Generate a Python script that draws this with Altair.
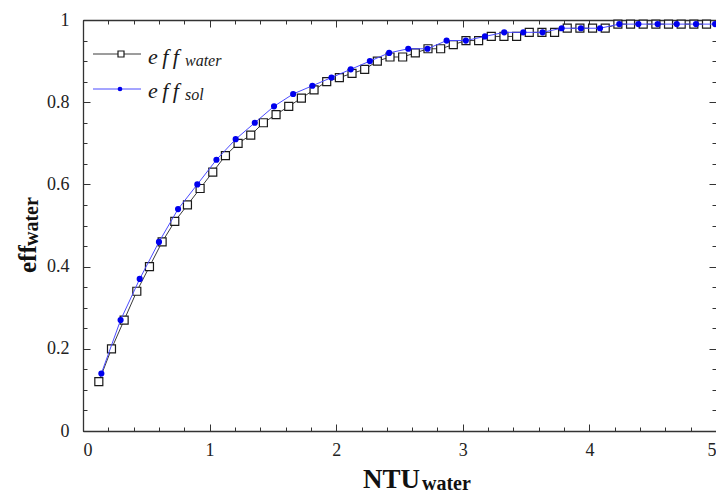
import altair as alt
import pandas as pd

# ---------------- data ----------------
water_ntu = [0.125, 0.225, 0.325, 0.425, 0.525, 0.625, 0.725, 0.825, 0.925, 1.025,
             1.125, 1.225, 1.325, 1.425, 1.525, 1.625, 1.725, 1.825, 1.925, 2.025,
             2.125, 2.225, 2.325, 2.425, 2.525, 2.625, 2.725, 2.825, 2.925, 3.025,
             3.125, 3.225, 3.325, 3.425, 3.525, 3.625, 3.725, 3.825, 3.925, 4.025,
             4.125, 4.225, 4.325, 4.425, 4.525, 4.625, 4.725, 4.825, 4.925]
water_eff = [0.12, 0.20, 0.27, 0.34, 0.40, 0.46, 0.51, 0.55, 0.59, 0.63,
             0.67, 0.70, 0.72, 0.75, 0.77, 0.79, 0.81, 0.83, 0.85, 0.86,
             0.87, 0.88, 0.90, 0.91, 0.91, 0.92, 0.93, 0.93, 0.94, 0.95,
             0.95, 0.96, 0.96, 0.96, 0.97, 0.97, 0.97, 0.98, 0.98, 0.98,
             0.98, 0.99, 0.99, 0.99, 0.99, 0.99, 0.99, 0.99, 0.99]

sol_ntu = [0.145, 0.297, 0.448, 0.600, 0.751, 0.903, 1.054, 1.206, 1.357, 1.509,
           1.660, 1.812, 1.963, 2.115, 2.266, 2.418, 2.569, 2.721, 2.872, 3.024,
           3.175, 3.327, 3.478, 3.630, 3.781, 3.933, 4.084, 4.236, 4.387, 4.539,
           4.690, 4.842, 4.993]
sol_eff = [0.14, 0.27, 0.37, 0.46, 0.54, 0.60, 0.66, 0.71, 0.75, 0.79,
           0.82, 0.84, 0.86, 0.88, 0.90, 0.92, 0.93, 0.93, 0.95, 0.95,
           0.96, 0.97, 0.97, 0.97, 0.98, 0.98, 0.98, 0.99, 0.99, 0.99,
           0.99, 0.99, 0.99]

x_major = [0, 1, 2, 3, 4, 5]
x_minor = [0, 0.2, 0.4, 0.6, 0.8, 1, 1.2, 1.4, 1.6, 1.8, 2, 2.2, 2.4, 2.6, 2.8,
           3, 3.2, 3.4, 3.6, 3.8, 4, 4.2, 4.4, 4.6, 4.8, 5]
y_major = [0, 0.2, 0.4, 0.6, 0.8, 1]
y_minor = [0, 0.05, 0.1, 0.15, 0.2, 0.25, 0.3, 0.35, 0.4, 0.45, 0.5, 0.55, 0.6,
           0.65, 0.7, 0.75, 0.8, 0.85, 0.9, 0.95, 1]

x_title = ["NTU"]
x_title_sub = ["water"]
y_title = ["eff"]
y_title_sub = ["water"]
legend_main = ["e\u2009f\u2009f"]
legend_sub = ["water", "sol"]

# ---------------- layout ----------------
W, H = 633, 411
SERIF = "Liberation Serif"
AX = "#333333"

water = pd.DataFrame({"ntu": water_ntu, "eff": water_eff})
sol = pd.DataFrame({"ntu": sol_ntu, "eff": sol_eff})

xs = alt.Scale(domain=[0, 5], nice=False, zero=False)
ys = alt.Scale(domain=[0, 1], nice=False, zero=False)


def X(axis):
    return alt.X("ntu:Q", scale=xs, axis=axis)


def Y(axis):
    return alt.Y("eff:Q", scale=ys, axis=axis)


main_x = alt.Axis(orient="bottom", values=x_major, format="~g", labelFont=SERIF,
                  labelFontSize=18, labelColor="#222222", labelPadding=10,
                  ticks=False, domain=True, domainColor=AX, domainWidth=1.3,
                  grid=False, title=None)
main_y = alt.Axis(orient="left", values=y_major, format="~g", labelFont=SERIF,
                  labelFontSize=18, labelColor="#222222", labelPadding=14,
                  ticks=False, domain=True, domainColor=AX, domainWidth=1.3,
                  grid=False, title=None)


def tick_axis(orient, values, size, offset, domain=False):
    return alt.Axis(orient=orient, values=values, offset=offset, tickSize=size,
                    ticks=True, labels=False, domain=domain, domainColor=AX,
                    domainWidth=1.3, tickColor=AX, tickWidth=1, grid=False,
                    title=None)


def invisible(xa, ya):
    return alt.Chart(water).mark_point(opacity=0).encode(x=X(xa), y=Y(ya))


water_line = alt.Chart(water).mark_line(color="#3a3a3a", strokeWidth=1).encode(
    x=X(main_x), y=Y(main_y))
water_pts = alt.Chart(water).mark_point(
    shape="square", filled=True, fill="white", stroke="#1a1a1a",
    strokeWidth=1.2, size=64, opacity=1).encode(x=X(None), y=Y(None))
sol_line = alt.Chart(sol).mark_line(color="#4b4bff", strokeWidth=1).encode(
    x=X(None), y=Y(None))
sol_pts = alt.Chart(sol).mark_circle(color="#0000ee", size=38, opacity=1).encode(
    x=X(None), y=Y(None))

tick_layers = [
    invisible(tick_axis("top", x_minor, 4, -H), tick_axis("right", y_minor, 4, -W)),
    invisible(tick_axis("top", x_major, 7, -H), tick_axis("right", y_major, 7, -W)),
    invisible(tick_axis("bottom", x_minor, 4, -H, domain=True),
              tick_axis("left", y_minor, 4, -W)),
    invisible(tick_axis("bottom", x_major, 7, -H), tick_axis("left", y_major, 7, -W)),
]


def text_layer(values, x, y, size, weight="normal", style="normal", angle=0,
               color="#111111"):
    df = pd.DataFrame({"t": values})
    return alt.Chart(df).mark_text(
        font=SERIF, fontSize=size, fontWeight=weight, fontStyle=style,
        align="left", baseline="alphabetic", angle=angle, color=color
    ).encode(x=alt.value(x), y=alt.value(y), text="t:N")


titles = [
    text_layer(x_title, 280, 468, 27, weight="bold"),
    text_layer(x_title_sub, 339, 470, 20, weight="bold"),
    text_layer(y_title, -47, 253, 25, weight="bold", angle=270),
    text_layer(y_title_sub, -45, 226, 20, weight="bold", angle=270),
]

one = pd.DataFrame({"k": [0]})
legend = [
    alt.Chart(one).mark_rule(color="#3a3a3a", strokeWidth=1).encode(
        x=alt.value(10), x2=alt.value(58), y=alt.value(34)),
    alt.Chart(one).mark_point(shape="square", filled=True, fill="white",
                              stroke="#1a1a1a", strokeWidth=1.2, size=36,
                              opacity=1).encode(x=alt.value(38), y=alt.value(34)),
    text_layer(legend_main, 65, 44, 22, style="italic", color="#1a1a1a"),
    text_layer(legend_sub[:1], 102, 46, 16, style="italic", color="#1a1a1a"),
    alt.Chart(one).mark_rule(color="#4b4bff", strokeWidth=1).encode(
        x=alt.value(10), x2=alt.value(58), y=alt.value(69)),
    alt.Chart(one).mark_circle(color="#0000ee", size=22, opacity=1).encode(
        x=alt.value(37), y=alt.value(69)),
    text_layer(legend_main, 65, 78, 22, style="italic", color="#1a1a1a"),
    text_layer(legend_sub[1:], 102, 80, 16, style="italic", color="#1a1a1a"),
]

chart = alt.layer(
    *tick_layers, water_line, water_pts, sol_line, sol_pts, *titles, *legend
).resolve_axis(x="independent", y="independent").properties(
    width=W, height=H,
    padding={"left": 83, "top": 20, "right": 0, "bottom": 62},
    autosize=alt.AutoSizeParams(type="none"),
    background="white",
).configure_view(stroke=None)

chart.save("out.html", embed_options={"renderer": "svg", "actions": False})
